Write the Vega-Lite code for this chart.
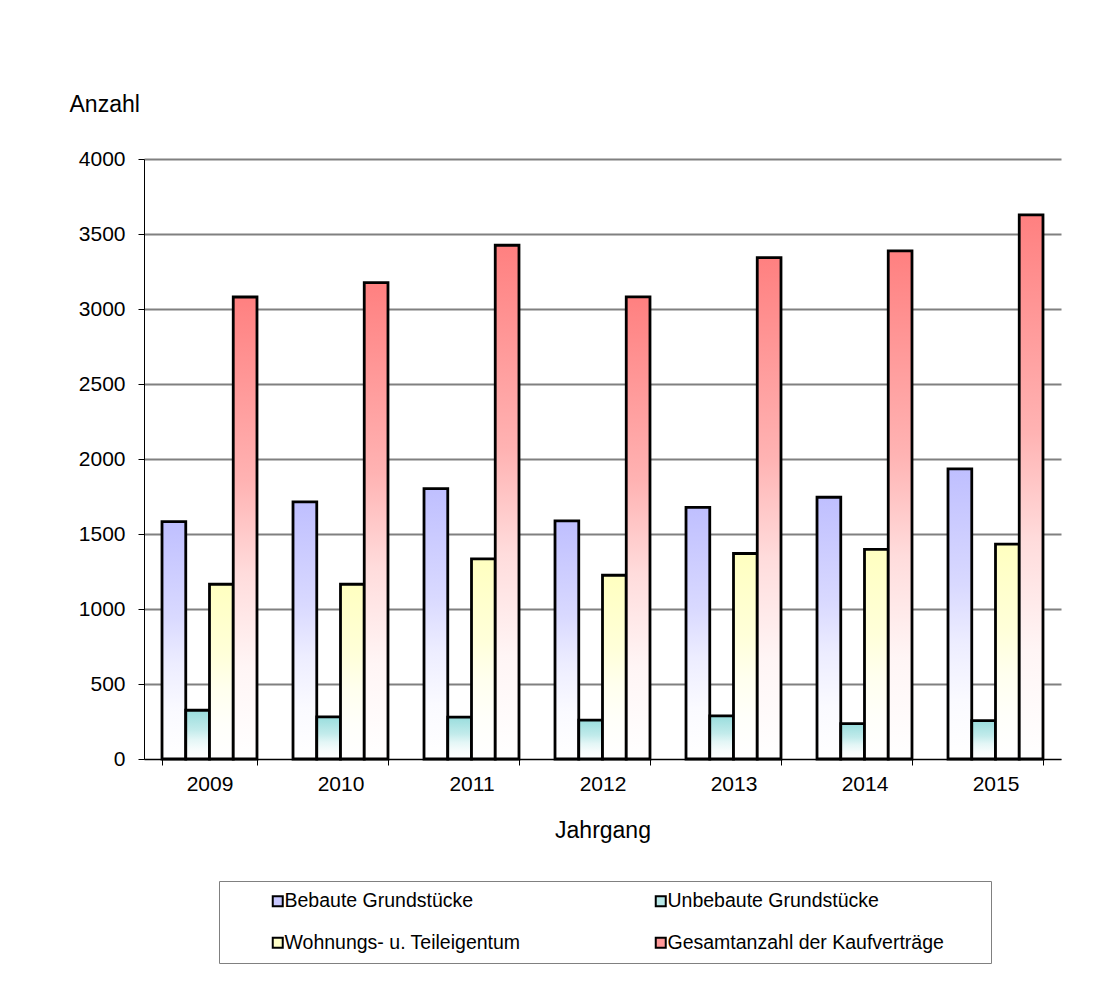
{
  "$schema": "https://vega.github.io/schema/vega-lite/v6.json",
  "autosize": {"type": "none"},
  "width": 917,
  "height": 600,
  "padding": {"left": 144, "top": 159, "right": 47, "bottom": 226},
  "background": "white",
  "config": {
    "font": "Liberation Sans",
    "view": {"stroke": null},
    "axis": {"labelColor": "black", "titleColor": "black", "titleFontWeight": "normal", "domainColor": "black", "tickColor": "black"}
  },
  "data": {
    "values": [
      {"jahr": "2009", "art": "Bebaute Grundstücke", "anzahl": 1583},
      {"jahr": "2009", "art": "Unbebaute Grundstücke", "anzahl": 325},
      {"jahr": "2009", "art": "Wohnungs- u. Teileigentum", "anzahl": 1165},
      {"jahr": "2009", "art": "Gesamtanzahl der Kaufverträge", "anzahl": 3080},
      {"jahr": "2010", "art": "Bebaute Grundstücke", "anzahl": 1714},
      {"jahr": "2010", "art": "Unbebaute Grundstücke", "anzahl": 281},
      {"jahr": "2010", "art": "Wohnungs- u. Teileigentum", "anzahl": 1165},
      {"jahr": "2010", "art": "Gesamtanzahl der Kaufverträge", "anzahl": 3176},
      {"jahr": "2011", "art": "Bebaute Grundstücke", "anzahl": 1803},
      {"jahr": "2011", "art": "Unbebaute Grundstücke", "anzahl": 279},
      {"jahr": "2011", "art": "Wohnungs- u. Teileigentum", "anzahl": 1334},
      {"jahr": "2011", "art": "Gesamtanzahl der Kaufverträge", "anzahl": 3425},
      {"jahr": "2012", "art": "Bebaute Grundstücke", "anzahl": 1587},
      {"jahr": "2012", "art": "Unbebaute Grundstücke", "anzahl": 259},
      {"jahr": "2012", "art": "Wohnungs- u. Teileigentum", "anzahl": 1225},
      {"jahr": "2012", "art": "Gesamtanzahl der Kaufverträge", "anzahl": 3081},
      {"jahr": "2013", "art": "Bebaute Grundstücke", "anzahl": 1678},
      {"jahr": "2013", "art": "Unbebaute Grundstücke", "anzahl": 287},
      {"jahr": "2013", "art": "Wohnungs- u. Teileigentum", "anzahl": 1370},
      {"jahr": "2013", "art": "Gesamtanzahl der Kaufverträge", "anzahl": 3343},
      {"jahr": "2014", "art": "Bebaute Grundstücke", "anzahl": 1745},
      {"jahr": "2014", "art": "Unbebaute Grundstücke", "anzahl": 236},
      {"jahr": "2014", "art": "Wohnungs- u. Teileigentum", "anzahl": 1398},
      {"jahr": "2014", "art": "Gesamtanzahl der Kaufverträge", "anzahl": 3387},
      {"jahr": "2015", "art": "Bebaute Grundstücke", "anzahl": 1934},
      {"jahr": "2015", "art": "Unbebaute Grundstücke", "anzahl": 256},
      {"jahr": "2015", "art": "Wohnungs- u. Teileigentum", "anzahl": 1432},
      {"jahr": "2015", "art": "Gesamtanzahl der Kaufverträge", "anzahl": 3627}
    ]
  },
  "encoding": {
    "x": {
      "field": "jahr",
      "type": "nominal",
      "scale": {"paddingInner": 0.275, "paddingOuter": 0.1375},
      "axis": {
        "title": "Jahrgang",
        "titleFontSize": 23,
        "titleY": 78,
        "titleBaseline": "alphabetic",
        "labelFontSize": 21,
        "labelAngle": 0,
        "labelPadding": 8,
        "tickBand": "extent",
        "tickSize": 6,
        "grid": false,
        "zindex": 2
      }
    },
    "xOffset": {
      "field": "art",
      "type": "nominal",
      "sort": ["Bebaute Grundstücke", "Unbebaute Grundstücke", "Wohnungs- u. Teileigentum", "Gesamtanzahl der Kaufverträge"],
      "scale": {"paddingInner": 0, "paddingOuter": 0}
    },
    "y": {
      "field": "anzahl",
      "type": "quantitative",
      "scale": {"domain": [0, 4000], "nice": false},
      "axis": {
        "title": "Anzahl",
        "titleFontSize": 23,
        "titleAngle": 0,
        "titleAlign": "left",
        "titleBaseline": "alphabetic",
        "titleX": -75,
        "titleY": -48,
        "values": [0, 500, 1000, 1500, 2000, 2500, 3000, 3500, 4000],
        "format": "d",
        "labelFontSize": 21,
        "labelPadding": 13,
        "tickSize": 6,
        "gridColor": "#808080",
        "gridWidth": 2,
        "gridOpacity": 1
      }
    }
  },
  "layer": [
    {
      "mark": {"type": "bar"},
      "encoding": {
        "color": {
          "field": "art",
          "type": "nominal",
          "scale": {
            "domain": ["Bebaute Grundstücke", "Unbebaute Grundstücke", "Wohnungs- u. Teileigentum", "Gesamtanzahl der Kaufverträge"],
            "range": ["#C8C8FF", "#B8E8E8", "#FFFFC8", "#FF9999"]
          },
          "legend": {
            "title": "\u00a0",
            "titleOrient": "right",
            "titlePadding": 37,
            "titleFontSize": 10,
            "orient": "none",
            "legendX": 75,
            "legendY": 722,
            "direction": "horizontal",
            "columns": 2,
            "columnPadding": 91,
            "rowPadding": 21,
            "padding": 10,
            "strokeColor": "#808080",
            "fillColor": "white",
            "symbolType": "square",
            "symbolSize": 100,
            "symbolStrokeColor": "black",
            "symbolStrokeWidth": 2,
            "symbolOpacity": 1,
            "symbolOffset": 39,
            "labelOffset": -3,
            "labelFontSize": 19.5,
            "labelColor": "black",
            "labelLimit": 400
          }
        }
      }
    },
    {
      "transform": [{"filter": "datum.art === 'Bebaute Grundstücke'"}],
      "mark": {
        "type": "bar", "stroke": "black", "strokeWidth": 2.8,
        "fill": {"gradient": "linear", "x1": 0, "y1": 0, "x2": 0, "y2": 1,
          "stops": [{"offset": 0, "color": "#BFBFFF"}, {"offset": 0.4, "color": "#D9D9FF"}, {"offset": 0.6, "color": "#EDEDFF"}, {"offset": 0.8, "color": "#FAFAFF"}, {"offset": 1, "color": "#FFFFFF"}]}
      }
    },
    {
      "transform": [{"filter": "datum.art === 'Unbebaute Grundstücke'"}],
      "mark": {
        "type": "bar", "stroke": "black", "strokeWidth": 2.8,
        "fill": {"gradient": "linear", "x1": 0, "y1": 0, "x2": 0, "y2": 1,
          "stops": [{"offset": 0, "color": "#99DDDD"}, {"offset": 0.4, "color": "#C2EBEB"}, {"offset": 0.6, "color": "#E3F6F6"}, {"offset": 0.8, "color": "#F7FCFC"}, {"offset": 1, "color": "#FFFFFF"}]}
      }
    },
    {
      "transform": [{"filter": "datum.art === 'Wohnungs- u. Teileigentum'"}],
      "mark": {
        "type": "bar", "stroke": "black", "strokeWidth": 2.8,
        "fill": {"gradient": "linear", "x1": 0, "y1": 0, "x2": 0, "y2": 1,
          "stops": [{"offset": 0, "color": "#FFFFC0"}, {"offset": 0.4, "color": "#FFFFD9"}, {"offset": 0.6, "color": "#FFFFEE"}, {"offset": 0.8, "color": "#FFFFFA"}, {"offset": 1, "color": "#FFFFFF"}]}
      }
    },
    {
      "transform": [{"filter": "datum.art === 'Gesamtanzahl der Kaufverträge'"}],
      "mark": {
        "type": "bar", "stroke": "black", "strokeWidth": 2.8,
        "fill": {"gradient": "linear", "x1": 0, "y1": 0, "x2": 0, "y2": 1,
          "stops": [{"offset": 0, "color": "#FF8080"}, {"offset": 0.4, "color": "#FFB3B3"}, {"offset": 0.6, "color": "#FFDCDC"}, {"offset": 0.8, "color": "#FFF5F5"}, {"offset": 1, "color": "#FFFFFF"}]}
      }
    }
  ]
}
